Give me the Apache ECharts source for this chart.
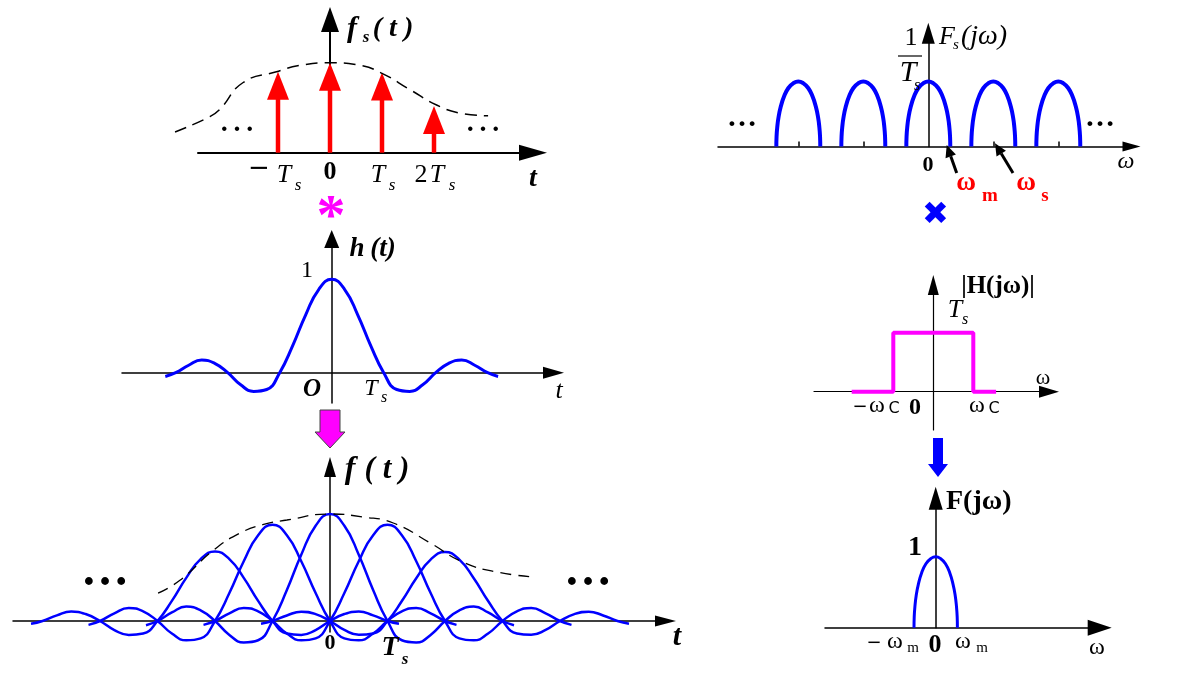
<!DOCTYPE html>
<html>
<head>
<meta charset="utf-8">
<script src="https://cdn.jsdelivr.net/npm/echarts@6/dist/echarts.min.js"></script>
<style>
  html, body { margin: 0; padding: 0; background: #fff; }
  #chart { width: 1203px; height: 676px; }
</style>
</head>
<body>
<div id="chart"></div>
<script>
// ---- values ----
// fs(t): impulse positions (in Ts) and heights (relative to the one at 0)
const sampleTimes = [-1, 0, 1, 2];
const sampleHeights = [0.9, 1.0, 0.89, 0.52];
// dashed envelope above the impulses
const envelopeTop = [[-2.98, 0.23], [-2.31, 0.40], [-2.12, 0.48], [-1.67, 0.78], [-1.03, 0.9], [-0.58, 0.97],
  [0, 1], [0.58, 0.97], [0.99, 0.885], [1.54, 0.7], [2.05, 0.53], [2.5, 0.44], [3.04, 0.41]];
// h(t) curve, t in Ts
const hShape = [[-3.2, -0.04], [-3, 0], [-2.75, 0.08], [-2.5, 0.135], [-2.25, 0.1], [-2, 0], [-1.75, -0.13],
  [-1.5, -0.2], [-1.25, -0.18], [-1, 0], [-0.75, 0.29], [-0.5, 0.62], [-0.25, 0.89], [0, 1], [0.25, 0.89],
  [0.5, 0.62], [0.75, 0.29], [1, 0], [1.25, -0.18], [1.5, -0.2], [1.75, -0.13], [2, 0], [2.25, 0.1],
  [2.5, 0.135], [2.75, 0.08], [3, 0], [3.2, -0.04]];
// f(t): one shifted h(t) per sample
const fSampleTimes = [-2, -1, 0, 1, 2];
const fSampleAmps = [0.65, 0.9, 1, 0.9, 0.645];
const envelopeBottom = [[-2.99, 0.26], [-2.61, 0.38], [-2.03, 0.66], [-1.57, 0.82], [-1.17, 0.9], [-0.75, 0.944],
  [0, 1], [0.57, 0.972], [1.1, 0.916], [1.74, 0.73], [2.31, 0.55], [2.9, 0.458], [3.57, 0.41]];
// Fs(jw): copies of the spectrum at multiples of ws
const specCenters = [-2, -1, 0, 1, 2];
const wmOverWs = 0.338;
const lobeShape = [[-1, 0], [-0.99, 0.15], [-0.96, 0.29], [-0.9, 0.45], [-0.8, 0.61], [-0.65, 0.77],
  [-0.45, 0.9], [-0.22, 0.975], [0, 1], [0.22, 0.975], [0.45, 0.9], [0.65, 0.77], [0.8, 0.61],
  [0.9, 0.45], [0.96, 0.29], [0.99, 0.15], [1, 0]];
const specTicks = [-2, -1, 1, 2];
// |H(jw)|, w in wC
const filterEdges = [[-2.04, 0], [-1, 0], [-1, 1], [1, 1], [1, 0], [1.57, 0]];

// ---- panel layout (pixels) ----
const panels = [
  { ox: 330, oy: 152.7, ux: 52, uy: 90, left: 198, right: 547, top: 7, bottom: 152.7, ax: [16, 28], ay: [18, 25], lw: 2 },
  { ox: 331.7, oy: 372.7, ux: 52, uy: 93.4, left: 122, right: 564, top: 230, bottom: 403, ax: [12, 21], ay: [15, 18], lw: 1.5 },
  { ox: 330, oy: 621, ux: 57.5, uy: 107, left: 13, right: 676, top: 457, bottom: 632, ax: [11, 21], ay: [12, 20], lw: 1.5 },
  { ox: 928.3, oy: 146.5, ux: 65, uy: 65, left: 718, right: 1140.5, top: 22.7, bottom: 146.5, ax: [10, 18], ay: [13, 21], lw: 1.5 },
  { ox: 933.3, oy: 391.7, ux: 40, uy: 59, left: 814, right: 1059, top: 275, bottom: 430, ax: [12, 20], ay: [11, 20], lw: 1.2 },
  { ox: 935.7, oy: 627.7, ux: 21.7, uy: 71, left: 825, right: 1111.7, top: 486.7, bottom: 627.7, ax: [16, 24], ay: [14, 23], lw: 1.5 }
];
const PAD = 40; // the curves live on a slightly larger hidden grid with the same scale

const grids = [], xAxes = [], yAxes = [];
panels.forEach((p, i) => {
  const right = p.right - p.ax[1] / 2;
  const top = p.top + p.ay[1] / 2;
  grids.push({ left: p.left, top: top, width: right - p.left, height: p.bottom - top, outerBoundsMode: 'none' });
  const line = { onZero: true, symbol: ['none', 'triangle'], lineStyle: { color: '#000', width: p.lw } };
  xAxes.push({
    type: 'value', gridIndex: i, min: (p.left - p.ox) / p.ux, max: (right - p.ox) / p.ux,
    axisLine: Object.assign({ symbolSize: p.ax }, line),
    axisTick: { show: false }, axisLabel: { show: false }, splitLine: { show: false }
  });
  yAxes.push({
    type: 'value', gridIndex: i, min: (p.oy - p.bottom) / p.uy, max: (p.oy - top) / p.uy,
    axisLine: Object.assign({ symbolSize: p.ay }, line),
    axisTick: { show: false }, axisLabel: { show: false }, splitLine: { show: false }
  });
});
panels.forEach((p, i) => {
  const right = p.right - p.ax[1] / 2 + PAD;
  const left = p.left - PAD;
  const top = p.top + p.ay[1] / 2 - PAD;
  const bottom = p.bottom + PAD;
  grids.push({ left: left, top: top, width: right - left, height: bottom - top, outerBoundsMode: 'none' });
  xAxes.push({ type: 'value', gridIndex: 6 + i, show: false, min: (left - p.ox) / p.ux, max: (right - p.ox) / p.ux });
  yAxes.push({ type: 'value', gridIndex: 6 + i, show: false, min: (p.oy - bottom) / p.uy, max: (p.oy - top) / p.uy });
});
xAxes[3].axisTick = { show: true, inside: true, length: 5, customValues: specTicks, lineStyle: { color: '#000', width: 1.5 } };

const BLUE = '#0000ff';
function curve(panel, data, color, width, extra) {
  return Object.assign({
    type: 'line', xAxisIndex: 6 + panel, yAxisIndex: 6 + panel, data: data, smooth: true, symbol: 'none',
    showSymbol: false, clip: false, silent: true, animation: false,
    lineStyle: { color: color, width: width }
  }, extra || {});
}

const series = [];
// impulses of fs(t)
series.push({
  type: 'custom', xAxisIndex: 6, yAxisIndex: 6, clip: false, animation: false, silent: true,
  data: sampleTimes.map((t, i) => [t, sampleHeights[i]]),
  renderItem(params, api) {
    const base = api.coord([api.value(0), 0]);
    const tip = api.coord([api.value(0), api.value(1)]);
    const hh = 28, hw = 22;
    return {
      type: 'group', children: [
        { type: 'line', shape: { x1: base[0], y1: base[1], x2: tip[0], y2: tip[1] + hh - 2 }, style: { stroke: '#ff0000', lineWidth: 4.5 } },
        { type: 'polygon', shape: { points: [[tip[0], tip[1]], [tip[0] - hw / 2, tip[1] + hh], [tip[0] + hw / 2, tip[1] + hh]] }, style: { fill: '#ff0000' } }
      ]
    };
  }
});
series.push(curve(0, envelopeTop, '#000', 1.5, { lineStyle: { color: '#000', width: 1.5, type: [12, 7] } }));
// h(t)
series.push(curve(1, hShape, BLUE, 3));
// f(t) = sum of shifted h(t)
fSampleTimes.forEach((t0, k) => {
  series.push(curve(2, hShape.map(([t, v]) => [t0 + t, fSampleAmps[k] * v]), BLUE, 2.5));
});
series.push(curve(2, envelopeBottom, '#000', 1.3, { lineStyle: { color: '#000', width: 1.3, type: [11, 7] } }));
// Fs(jw)
specCenters.forEach(c => {
  series.push(curve(3, lobeShape.map(([u, v]) => [c + u * wmOverWs, v]), BLUE, 4));
});
// |H(jw)|
series.push(curve(4, filterEdges, '#ff00ff', 4, { smooth: false }));
// F(jw)
series.push(curve(5, lobeShape, BLUE, 3));

// ---- text and annotations ----
const serif = '"Liberation Serif", "Times New Roman", serif';
function txt(x, y, text, size, o) {
  o = o || {};
  return {
    type: 'text', x: x, y: y, z: 100, silent: true,
    style: {
      text: text, fontFamily: o.family || serif, fontSize: size,
      fontStyle: o.italic ? 'italic' : 'normal', fontWeight: o.bold ? 'bold' : 'normal',
      fill: o.color || '#000', align: o.align || 'center', verticalAlign: 'middle'
    }
  };
}
function arrow(x1, y1, x2, y2, len, wid, color, lw) {
  const dx = x2 - x1, dy = y2 - y1, d = Math.hypot(dx, dy);
  const ux = dx / d, uy = dy / d;
  const bx = x2 - ux * len, by = y2 - uy * len;
  return [
    { type: 'line', z: 100, shape: { x1: x1, y1: y1, x2: bx, y2: by }, style: { stroke: color, lineWidth: lw } },
    { type: 'polygon', z: 100, shape: { points: [[x2, y2], [bx - uy * wid / 2, by + ux * wid / 2], [bx + uy * wid / 2, by - ux * wid / 2]] }, style: { fill: color } }
  ];
}
const I = { italic: true }, B = { bold: true }, IB = { italic: true, bold: true };
const RED = { bold: true, color: '#ff0000' };
const MINUS = { family: 'DejaVu Sans' };

const graphics = [
  // fs(t)
  txt(352, 29, 'f', 30, IB), txt(366, 38, 's', 17, IB), txt(393, 29, '( t )', 28, IB),
  txt(259, 169, '\u2212', 26, MINUS), txt(284, 175, 'T', 26, I), txt(298, 186, 's', 17, I),
  txt(330, 172, '0', 26, B),
  txt(378, 175, 'T', 26, I), txt(392, 186, 's', 17, I),
  txt(421, 175, '2', 26), txt(437, 175, 'T', 26, I), txt(452, 186, 's', 17, I),
  txt(533, 179, 't', 28, IB),
  txt(237, 121, '\u2026', 38), txt(483, 121, '\u2026', 38),
  txt(331, 219, '*', 58, { bold: true, color: '#ff00ff' }),
  // h(t)
  txt(357, 249, 'h', 27, IB), txt(383, 249, '(t)', 27, IB),
  txt(307, 271, '1', 24),
  txt(312, 390, 'O', 25, IB),
  txt(371, 389, 'T', 24, I), txt(384, 398, 's', 16, I),
  txt(559, 391, 't', 26, I),
  { type: 'polygon', z: 100, shape: { points: [[320, 410], [340, 410], [340, 432], [345, 432], [330, 448], [315, 432], [320, 432]] }, style: { fill: '#ff00ff', stroke: '#444', lineWidth: 1 } },
  // f(t)
  txt(350, 470, 'f', 32, IB), txt(387, 470, '( t )', 31, IB),
  txt(330, 643, '0', 22, B),
  txt(390, 648, 'T', 28, IB), txt(405, 660, 's', 17, IB),
  txt(677, 637, 't', 30, IB),
  txt(105, 573, '\u2026', 48, B), txt(588, 573, '\u2026', 48, B),
  // Fs(jw)
  txt(911, 38, '1', 26),
  { type: 'line', z: 100, shape: { x1: 898, y1: 56, x2: 922, y2: 56 }, style: { stroke: '#000', lineWidth: 1.2 } },
  txt(908, 73, 'T', 30, I), txt(917, 86, 's', 16, I),
  txt(947, 37, 'F', 26, I), txt(956, 45, 's', 15, I), txt(984, 37, '(j\u03c9)', 28, I),
  txt(928, 165, '0', 22, B),
  txt(1126, 162, '\u03c9', 24, I),
  txt(742, 118, '\u2026', 30, B), txt(1100, 118, '\u2026', 30, B),
  txt(966, 183, '\u03c9', 27, RED), txt(990, 196, 'm', 19, RED),
  txt(1026, 183, '\u03c9', 27, RED), txt(1045, 196, 's', 19, RED),
  ...arrow(956.7, 173, 946.7, 145, 12, 11, '#000', 3),
  ...arrow(1013, 173, 995, 143.3, 12, 11, '#000', 3),
  txt(935.5, 216, '\u2716', 32, { family: 'DejaVu Sans', color: BLUE }),
  // |H(jw)|
  txt(998, 287, '|H(j\u03c9)|', 25, B),
  txt(955, 310, 'T', 26, I), txt(965, 320, 's', 16, I),
  txt(1043, 378, '\u03c9', 22),
  txt(860, 407, '\u2212', 18, MINUS), txt(877, 406, '\u03c9', 24), txt(894, 409, 'C', 16, { family: 'DejaVu Sans' }),
  txt(915, 408, '0', 24, B),
  txt(977, 406, '\u03c9', 24), txt(994, 409, 'C', 16, { family: 'DejaVu Sans' }),
  { type: 'polygon', z: 100, shape: { points: [[933, 438], [943, 438], [943, 464], [948, 464], [938, 477], [928, 464], [933, 464]] }, style: { fill: BLUE } },
  // F(jw)
  txt(946, 502, 'F(j\u03c9)', 28, { bold: true, align: 'left' }),
  txt(915, 548, '1', 28, B),
  txt(874, 643, '\u2212', 18, MINUS), txt(895, 642, '\u03c9', 24), txt(913, 648, 'm', 15),
  txt(935, 645, '0', 26, B),
  txt(963, 642, '\u03c9', 24), txt(982, 648, 'm', 15),
  txt(1097, 648, '\u03c9', 24)
];

const chart = echarts.init(document.getElementById('chart'), null, { renderer: 'canvas' });
chart.setOption({
  animation: false,
  backgroundColor: '#fff',
  grid: grids,
  xAxis: xAxes,
  yAxis: yAxes,
  series: series,
  graphic: graphics
});
</script>
</body>
</html>
